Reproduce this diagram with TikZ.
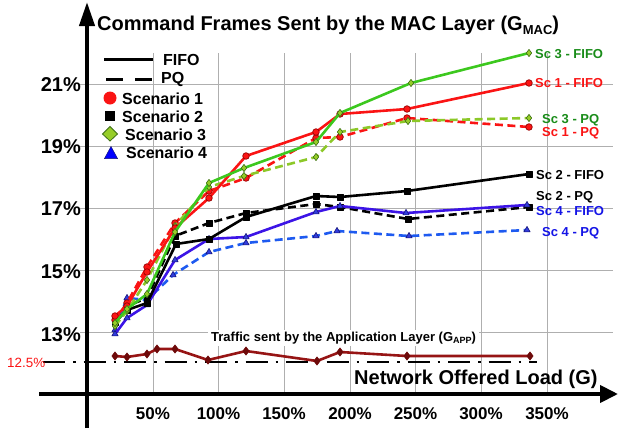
\documentclass[tikz,border=0pt]{standalone}
\usepackage{fontspec}
\setmainfont{Liberation Sans}
\usetikzlibrary{arrows.meta,plotmarks}

\newcommand\setfs[1]{\fontsize{#1}{#1}\selectfont}

\definecolor{gridc}{RGB}{175,175,175}
\definecolor{redc}{RGB}{250,20,20}
\definecolor{redmk}{RGB}{150,0,0}
\definecolor{greenF}{RGB}{60,200,30}
\definecolor{greenP}{RGB}{140,200,40}
\definecolor{greenmk}{RGB}{150,205,40}
\definecolor{greenedge}{RGB}{60,110,20}
\definecolor{greentxt}{RGB}{25,140,25}
\definecolor{blueF}{RGB}{60,20,230}
\definecolor{blueP}{RGB}{30,90,240}
\definecolor{bluemk}{RGB}{50,60,220}
\definecolor{blueedge}{RGB}{20,20,120}
\definecolor{bluetxt}{RGB}{20,20,230}
\definecolor{trafc}{RGB}{150,20,20}
\definecolor{trafmk}{RGB}{110,10,10}

\tikzset{
  gridln/.style={draw=gridc, line width=0.9pt},
  ser/.style={line width=2.6pt, line join=round, line cap=round},
  pqser/.style={ser, line cap=butt, dash pattern=on 8pt off 4.5pt},
  ylab/.style={anchor=base east, font=\setfs{20}\bfseries, inner sep=0pt},
  xlab/.style={anchor=base, font=\setfs{17}\bfseries, inner sep=0pt},
  leglab/.style={anchor=base west, font=\setfs{16}\bfseries, inner sep=0pt},
  endlab/.style={anchor=base west, font=\setfs{13}\bfseries, inner sep=0pt},
  redmarks/.style={mark=*, mark size=3.3pt, mark options={solid, fill=redc, draw=redmk, line width=0.7pt}},
  blackmarks/.style={mark=square*, mark size=3pt, mark options={solid, fill=black, draw=black, line width=0.5pt}},
  greenmarks/.style={mark=diamond*, mark size=3.6pt, mark options={solid, fill=greenmk, draw=greenedge, line width=0.6pt}},
  bluemarks/.style={mark=triangle*, mark size=3.6pt, mark options={solid, fill=bluemk, draw=blueedge, line width=0.6pt}},
}

\begin{document}
\begin{tikzpicture}[x=1pt, y=-1pt]
\useasboundingbox (0,0) rectangle (619,429);

% grid
\foreach \gx in {153,218.5,284,350,415.5,481,547}
  \draw[gridln] (\gx,53) -- (\gx,394);
\foreach \gy in {84,146,208,270,332}
  \draw[gridln] (80,\gy) -- (613,\gy);

% axes
\draw[line width=4pt, -{Triangle[length=18pt,width=17pt]}] (39,394) -- (618,394);
\draw[line width=4pt, -{Triangle[length=24pt,width=15pt]}] (87,428) -- (87,2);

% title and axis captions
\node[anchor=base west, font=\setfs{20}\bfseries, inner sep=0pt] (title) at (97,30)
  {Command Frames Sent by the MAC Layer (G\raisebox{-4.5pt}{\setfs{13}MAC})};
\node[anchor=base west, font=\setfs{20}\bfseries, inner sep=0pt] (xcap) at (354,384)
  {Network Offered Load (G)};

% y tick labels
\node[ylab] (y21) at (81,91) {21\%};
\node[ylab] (y19) at (81,153) {19\%};
\node[ylab] (y17) at (81,215) {17\%};
\node[ylab] (y15) at (81,278) {15\%};
\node[ylab] (y13) at (81,341) {13\%};

% x tick labels
\node[xlab] (x50) at (153,419) {50\%};
\node[xlab] (x100) at (218.5,419) {100\%};
\node[xlab] (x150) at (284,419) {150\%};
\node[xlab] (x200) at (350,419) {200\%};
\node[xlab] (x250) at (415.5,419) {250\%};
\node[xlab] (x300) at (481,419) {300\%};
\node[xlab] (x350) at (547,419) {350\%};

% reference level of the application traffic
\draw[line width=2.2pt, dash pattern=on 22pt off 8pt on 2.5pt off 8pt] (43,362) -- (537,362);
\node[anchor=base west, font=\setfs{13.4}, text=redc, inner sep=0pt] (ref) at (7,367) {12.5\%};

% application layer traffic
\node[anchor=base west, font=\setfs{13}\bfseries, fill=white, inner xsep=3pt, inner ysep=2pt] (app) at (208,341)
  {Traffic sent by the Application Layer (G\raisebox{-2.5pt}{\setfs{9}APP})};
\draw[ser, trafc] plot[mark=diamond*, mark size=4.2pt, mark options={fill=trafmk, draw=trafmk, line width=0.5pt}]
  coordinates {(115,356) (127,357) (147,354) (157,349) (175,349) (208,360) (246,351) (317,361) (340,352) (407,356) (530,356)};

% PQ series
\draw[pqser, blueP] plot[bluemarks]
  coordinates {(115,330) (127,298) (147,300) (173,275) (209,252) (246,243) (316,236) (337,231) (409,236) (527,230)};
\draw[pqser, black] plot[blackmarks]
  coordinates {(115,320) (127,306) (147,298) (175,236) (209,223) (246,213) (316,204) (340,207) (408,219) (529,207)};
% FIFO series (lower group)
\draw[ser, blueF] plot[bluemarks]
  coordinates {(115,334) (127,318) (147,305) (175,260) (209,239) (246,237) (316,212) (340,206) (406,213) (527,205)};
\draw[ser, black] plot[blackmarks]
  coordinates {(115,322) (127,310) (147,303) (176,244) (209,239) (246,217) (316,196) (340,197) (407,191) (529,174)};
% upper group
\draw[pqser, redc] plot[redmarks]
  coordinates {(115,320) (127,303) (147,267) (175,223) (209,191) (246,178) (316,138) (340,137) (407,118) (529,127)};
\draw[pqser, greenP] plot[greenmarks]
  coordinates {(115,326) (127,311) (147,280) (175,226) (209,187) (244,176) (316,157) (340,132) (408,121) (529,118)};
\draw[ser, redc] plot[redmarks]
  coordinates {(115,316) (127,306) (147,272) (175,228) (209,198) (246,156) (316,132) (340,114) (407,109) (529,83)};
\draw[ser, greenF] plot[greenmarks]
  coordinates {(115,323) (127,309) (147,294) (175,232) (209,183) (244,168) (316,142) (340,113) (411,83) (529,53)};

% series end labels
\node[endlab, text=greentxt] (e3f) at (535,58) {Sc 3 - FIFO};
\node[endlab, text=redc] (e1f) at (535,87) {Sc 1 - FIFO};
\node[endlab, text=greentxt] (e3p) at (542,123) {Sc 3 - PQ};
\node[endlab, text=redc] (e1p) at (542,136) {Sc 1 - PQ};
\node[endlab, text=black] (e2f) at (536,179) {Sc 2 - FIFO};
\node[endlab, text=black] (e2p) at (536,200) {Sc 2 - PQ};
\node[endlab, text=bluetxt] (e4f) at (536,215) {Sc 4 - FIFO};
\node[endlab, text=bluetxt] (e4p) at (542,236) {Sc 4 - PQ};

% legend
\draw[line width=3pt] (104,59) -- (153,59);
\draw[line width=3pt, dash pattern=on 17pt off 12pt] (106,79) -- (153,79);
\node[leglab] (lfifo) at (163,65) {FIFO};
\node[leglab] (lpq) at (161,83.5) {PQ};
\fill[redc] (110,98) circle (6.5);
\fill[black] (104.8,110.8) rectangle (115.2,121.2);
\draw[fill=greenmk, draw=greenedge, line width=0.8pt] (110,126.5) -- (117.5,134) -- (110,141) -- (102.5,134) -- cycle;
\draw[fill=blue, draw=blueedge, line width=0.5pt] (111,146.5) -- (117.5,158.5) -- (104.5,158.5) -- cycle;
\node[leglab] (ls1) at (122,104) {Scenario 1};
\node[leglab] (ls2) at (122,122) {Scenario 2};
\node[leglab] (ls3) at (125,140) {Scenario 3};
\node[leglab] (ls4) at (126,158) {Scenario 4};
\end{tikzpicture}
\end{document}
